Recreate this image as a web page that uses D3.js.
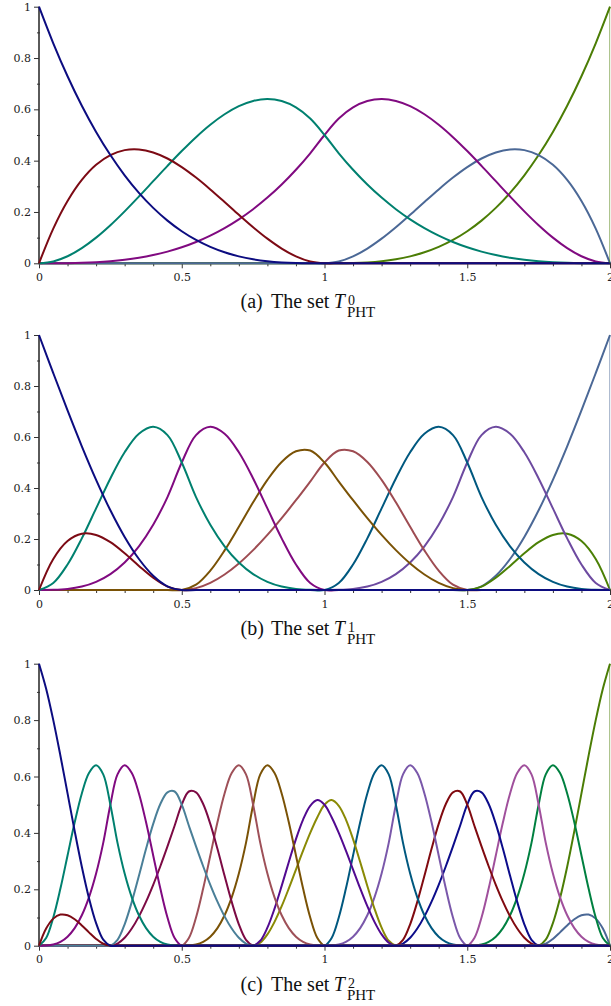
<!DOCTYPE html>
<html><head><meta charset="utf-8">
<script src="https://cdn.jsdelivr.net/npm/d3@7"></script>
<style>
html,body{margin:0;padding:0;background:#fff;}
svg{display:block;}
.tick text{font-family:'DejaVu Serif',serif;font-size:11px;}
.cap text{font-family:'Liberation Serif','Times New Roman',serif;}
</style></head><body>
<svg id="chart" width="611" height="1006"></svg>
<script>
// ---------- sample grids (parameter t) ----------
const xCoarse = [0,.05,.1,.15,.2,.25,.3,.35,.4,.45,.5,.55,.6,.65,.7,.75,.8,.85,.9,.95,1,1.05,1.1,1.15,1.2,1.25,1.3,1.35,1.4,1.45,1.5,1.55,1.6,1.65,1.7,1.75,1.8,1.85,1.9,1.95,2];
const xFine = [0,.025,.05,.075,.1,.125,.15,.175,.2,.225,.25,.275,.3,.325,.35,.375,.4,.425,.45,.475,.5,.525,.55,.575,.6,.625,.65,.675,.7,.725,.75,.775,.8,.825,.85,.875,.9,.925,.95,.975,1,1.025,1.05,1.075,1.1,1.125,1.15,1.175,1.2,1.225,1.25,1.275,1.3,1.325,1.35,1.375,1.4,1.425,1.45,1.475,1.5,1.525,1.55,1.575,1.6,1.625,1.65,1.675,1.7,1.725,1.75,1.775,1.8,1.825,1.85,1.875,1.9,1.925,1.95,1.975,2];

// ---------- (a) T^0 : values on xCoarse ----------
const a_navy = [1,.8574,.729,.6141,.512,.4219,.343,.2746,.216,.1664,.125,.0911,.064,.0429,.027,.0156,.008,.0034,.001,.0001,0,
 0,0,0,0,0,0,0,0,0,0, 0,0,0,0,0,0,0,0,0,0];
const a_red = [0,.1354,.243,.3251,.384,.4219,.441,.4436,.432,.4084,.375,.3341,.288,.2389,.189,.1406,.096,.0574,.027,.0071,0,
 0,0,0,0,0,0,0,0,0,0, 0,0,0,0,0,0,0,0,0,0];
const a_teal = [0,.0072,.0275,.0591,.1,.1484,.2025,.2603,.32,.3797,.4375,.4916,.54,.5809,.6125,.6328,.64,.6322,.6075,.5641,.5,
 .4287,.3645,.3071,.256,.2109,.1715,.1373,.108,.0832,.0625,.0456,.032,.0214,.0135,.0078,.004,.0017,.0005,.0001,0];
const a_purple = [0,.0001,.0005,.0017,.004,.0078,.0135,.0214,.032,.0456,.0625,.0832,.108,.1373,.1715,.2109,.256,.3071,.3645,.4287,.5,
 .5641,.6075,.6322,.64,.6328,.6125,.5809,.54,.4916,.4375,.3797,.32,.2603,.2025,.1484,.1,.0591,.0275,.0072,0];
const a_slate = [0,0,0,0,0,0,0,0,0,0, 0,0,0,0,0,0,0,0,0,0,
 0,.0071,.027,.0574,.096,.1406,.189,.2389,.288,.3341,.375,.4084,.432,.4436,.441,.4219,.384,.3251,.243,.1354,0];
const a_green = [0,0,0,0,0,0,0,0,0,0, 0,0,0,0,0,0,0,0,0,0,
 0,.0001,.001,.0034,.008,.0156,.027,.0429,.064,.0911,.125,.1664,.216,.2746,.343,.4219,.512,.6141,.729,.8574,1];

// ---------- (b) T^1 : values on xCoarse ----------
const b_navy = [1,.8505,.704,.5635,.432,.3125,.208,.1215,.056,.0145,0,
 0,0,0,0,0,0,0,0,0,0, 0,0,0,0,0,0,0,0,0,0, 0,0,0,0,0,0,0,0,0,0];
const b_red = [0,.1215,.192,.2205,.216,.1875,.144,.0945,.048,.0135,0,
 0,0,0,0,0,0,0,0,0,0, 0,0,0,0,0,0,0,0,0,0, 0,0,0,0,0,0,0,0,0,0];
const b_teal = [0,.0275,.1,.2025,.32,.4375,.54,.6125,.64,.6075,.5, .3645,.256,.1715,.108,.0625,.032,.0135,.004,.0005,0,
 0,0,0,0,0,0,0,0,0,0, 0,0,0,0,0,0,0,0,0,0];
const b_purple = [0,.0005,.004,.0135,.032,.0625,.108,.1715,.256,.3645,.5, .6075,.64,.6125,.54,.4375,.32,.2025,.1,.0275,0,
 0,0,0,0,0,0,0,0,0,0, 0,0,0,0,0,0,0,0,0,0];
const b_brown = [0,0,0,0,0,0,0,0,0,0,
 0,.0208,.076,.1553,.248,.3438,.432,.5023,.544,.5468,.5, .4253,.352,.2818,.216,.1563,.104,.0608,.028,.0073,0,
 0,0,0,0,0,0,0,0,0,0];
const b_rosy = [0,0,0,0,0,0,0,0,0,0,
 0,.0073,.028,.0608,.104,.1563,.216,.2818,.352,.4253,.5, .5468,.544,.5023,.432,.3438,.248,.1553,.076,.0208,0,
 0,0,0,0,0,0,0,0,0,0];
const b_petrol = [0,0,0,0,0,0,0,0,0,0, 0,0,0,0,0,0,0,0,0,0,
 0,.0275,.1,.2025,.32,.4375,.54,.6125,.64,.6075,.5, .3645,.256,.1715,.108,.0625,.032,.0135,.004,.0005,0];
const b_violet = [0,0,0,0,0,0,0,0,0,0, 0,0,0,0,0,0,0,0,0,0,
 0,.0005,.004,.0135,.032,.0625,.108,.1715,.256,.3645,.5, .6075,.64,.6125,.54,.4375,.32,.2025,.1,.0275,0];
const b_green = [0,0,0,0,0,0,0,0,0,0, 0,0,0,0,0,0,0,0,0,0, 0,0,0,0,0,0,0,0,0,0,
 0,.0135,.048,.0945,.144,.1875,.216,.2205,.192,.1215,0];
const b_slate = [0,0,0,0,0,0,0,0,0,0, 0,0,0,0,0,0,0,0,0,0, 0,0,0,0,0,0,0,0,0,0,
 0,.0145,.056,.1215,.208,.3125,.432,.5635,.704,.8505,1];

// ---------- (c) T^2 : values on xFine ----------
const c_navy = [1,.9113,.8,.6738,.54,.4063,.28,.1688,.08,.0213,0,
 0,0,0,0,0,0,0,0,0,0, 0,0,0,0,0,0,0,0,0,0, 0,0,0,0,0,0,0,0,0,0, 0,0,0,0,0,0,0,0,0,0,
 0,0,0,0,0,0,0,0,0,0, 0,0,0,0,0,0,0,0,0,0, 0,0,0,0,0,0,0,0,0,0];
const c_red = [0,.0608,.096,.1103,.108,.0938,.072,.0473,.024,.0068,0,
 0,0,0,0,0,0,0,0,0,0, 0,0,0,0,0,0,0,0,0,0, 0,0,0,0,0,0,0,0,0,0, 0,0,0,0,0,0,0,0,0,0,
 0,0,0,0,0,0,0,0,0,0, 0,0,0,0,0,0,0,0,0,0, 0,0,0,0,0,0,0,0,0,0];
const c_teal = [0,.0275,.1,.2025,.32,.4375,.54,.6125,.64,.6075,.5, .3645,.256,.1715,.108,.0625,.032,.0135,.004,.0005,0,
 0,0,0,0,0,0,0,0,0,0, 0,0,0,0,0,0,0,0,0,0, 0,0,0,0,0,0,0,0,0,0,
 0,0,0,0,0,0,0,0,0,0, 0,0,0,0,0,0,0,0,0,0, 0,0,0,0,0,0,0,0,0,0];
const c_purple = [0,.0005,.004,.0135,.032,.0625,.108,.1715,.256,.3645,.5, .6075,.64,.6125,.54,.4375,.32,.2025,.1,.0275,0,
 0,0,0,0,0,0,0,0,0,0, 0,0,0,0,0,0,0,0,0,0, 0,0,0,0,0,0,0,0,0,0,
 0,0,0,0,0,0,0,0,0,0, 0,0,0,0,0,0,0,0,0,0, 0,0,0,0,0,0,0,0,0,0];
const c_steel = [0,0,0,0,0,0,0,0,0,0,
 0,.0208,.076,.1553,.248,.3438,.432,.5023,.544,.5468,.5, .4253,.352,.2818,.216,.1563,.104,.0608,.028,.0073,0,
 0,0,0,0,0,0,0,0,0,0, 0,0,0,0,0,0,0,0,0,0, 0,0,0,0,0,0,0,0,0,0, 0,0,0,0,0,0,0,0,0,0, 0,0,0,0,0,0,0,0,0,0];
const c_wine = [0,0,0,0,0,0,0,0,0,0,
 0,.0073,.028,.0608,.104,.1563,.216,.2818,.352,.4253,.5, .5468,.544,.5023,.432,.3438,.248,.1553,.076,.0208,0,
 0,0,0,0,0,0,0,0,0,0, 0,0,0,0,0,0,0,0,0,0, 0,0,0,0,0,0,0,0,0,0, 0,0,0,0,0,0,0,0,0,0, 0,0,0,0,0,0,0,0,0,0];
const c_rosy = [0,0,0,0,0,0,0,0,0,0, 0,0,0,0,0,0,0,0,0,0,
 0,.0275,.1,.2025,.32,.4375,.54,.6125,.64,.6075,.5, .3645,.256,.1715,.108,.0625,.032,.0135,.004,.0005,0,
 0,0,0,0,0,0,0,0,0,0, 0,0,0,0,0,0,0,0,0,0, 0,0,0,0,0,0,0,0,0,0, 0,0,0,0,0,0,0,0,0,0];
const c_brown = [0,0,0,0,0,0,0,0,0,0, 0,0,0,0,0,0,0,0,0,0,
 0,.0005,.004,.0135,.032,.0625,.108,.1715,.256,.3645,.5, .6075,.64,.6125,.54,.4375,.32,.2025,.1,.0275,0,
 0,0,0,0,0,0,0,0,0,0, 0,0,0,0,0,0,0,0,0,0, 0,0,0,0,0,0,0,0,0,0, 0,0,0,0,0,0,0,0,0,0];
const c_indigo = [0,0,0,0,0,0,0,0,0,0, 0,0,0,0,0,0,0,0,0,0, 0,0,0,0,0,0,0,0,0,0,
 0,.0174,.064,.1316,.212,.2969,.378,.4471,.496,.5164,.5, .4556,.4,.3369,.27,.2031,.14,.0844,.04,.0106,0,
 0,0,0,0,0,0,0,0,0,0, 0,0,0,0,0,0,0,0,0,0, 0,0,0,0,0,0,0,0,0,0];
const c_olive = [0,0,0,0,0,0,0,0,0,0, 0,0,0,0,0,0,0,0,0,0, 0,0,0,0,0,0,0,0,0,0,
 0,.0106,.04,.0844,.14,.2031,.27,.3369,.4,.4556,.5, .5164,.496,.4471,.378,.2969,.212,.1316,.064,.0174,0,
 0,0,0,0,0,0,0,0,0,0, 0,0,0,0,0,0,0,0,0,0, 0,0,0,0,0,0,0,0,0,0];
const c_petrol = [0,0,0,0,0,0,0,0,0,0, 0,0,0,0,0,0,0,0,0,0, 0,0,0,0,0,0,0,0,0,0, 0,0,0,0,0,0,0,0,0,0,
 0,.0275,.1,.2025,.32,.4375,.54,.6125,.64,.6075,.5, .3645,.256,.1715,.108,.0625,.032,.0135,.004,.0005,0,
 0,0,0,0,0,0,0,0,0,0, 0,0,0,0,0,0,0,0,0,0];
const c_lavender = [0,0,0,0,0,0,0,0,0,0, 0,0,0,0,0,0,0,0,0,0, 0,0,0,0,0,0,0,0,0,0, 0,0,0,0,0,0,0,0,0,0,
 0,.0005,.004,.0135,.032,.0625,.108,.1715,.256,.3645,.5, .6075,.64,.6125,.54,.4375,.32,.2025,.1,.0275,0,
 0,0,0,0,0,0,0,0,0,0, 0,0,0,0,0,0,0,0,0,0];
const c_darkred = [0,0,0,0,0,0,0,0,0,0, 0,0,0,0,0,0,0,0,0,0, 0,0,0,0,0,0,0,0,0,0, 0,0,0,0,0,0,0,0,0,0, 0,0,0,0,0,0,0,0,0,0,
 0,.0208,.076,.1553,.248,.3438,.432,.5023,.544,.5468,.5, .4253,.352,.2818,.216,.1563,.104,.0608,.028,.0073,0,
 0,0,0,0,0,0,0,0,0,0];
const c_navy2 = [0,0,0,0,0,0,0,0,0,0, 0,0,0,0,0,0,0,0,0,0, 0,0,0,0,0,0,0,0,0,0, 0,0,0,0,0,0,0,0,0,0, 0,0,0,0,0,0,0,0,0,0,
 0,.0073,.028,.0608,.104,.1563,.216,.2818,.352,.4253,.5, .5468,.544,.5023,.432,.3438,.248,.1553,.076,.0208,0,
 0,0,0,0,0,0,0,0,0,0];
const c_orchid = [0,0,0,0,0,0,0,0,0,0, 0,0,0,0,0,0,0,0,0,0, 0,0,0,0,0,0,0,0,0,0, 0,0,0,0,0,0,0,0,0,0, 0,0,0,0,0,0,0,0,0,0, 0,0,0,0,0,0,0,0,0,0,
 0,.0275,.1,.2025,.32,.4375,.54,.6125,.64,.6075,.5, .3645,.256,.1715,.108,.0625,.032,.0135,.004,.0005,0];
const c_green = [0,0,0,0,0,0,0,0,0,0, 0,0,0,0,0,0,0,0,0,0, 0,0,0,0,0,0,0,0,0,0, 0,0,0,0,0,0,0,0,0,0, 0,0,0,0,0,0,0,0,0,0, 0,0,0,0,0,0,0,0,0,0,
 0,.0005,.004,.0135,.032,.0625,.108,.1715,.256,.3645,.5, .6075,.64,.6125,.54,.4375,.32,.2025,.1,.0275,0];
const c_slate = [0,0,0,0,0,0,0,0,0,0, 0,0,0,0,0,0,0,0,0,0, 0,0,0,0,0,0,0,0,0,0, 0,0,0,0,0,0,0,0,0,0, 0,0,0,0,0,0,0,0,0,0, 0,0,0,0,0,0,0,0,0,0, 0,0,0,0,0,0,0,0,0,0,
 0,.0068,.024,.0473,.072,.0938,.108,.1103,.096,.0608,0];
const c_olivegreen = [0,0,0,0,0,0,0,0,0,0, 0,0,0,0,0,0,0,0,0,0, 0,0,0,0,0,0,0,0,0,0, 0,0,0,0,0,0,0,0,0,0, 0,0,0,0,0,0,0,0,0,0, 0,0,0,0,0,0,0,0,0,0, 0,0,0,0,0,0,0,0,0,0,
 0,.0213,.08,.1688,.28,.4063,.54,.6738,.8,.9113,1];

// ---------- colours ----------
const colorsA = ["#0c0c80","#7c0a14","#00806f","#800a80","#4b6896","#4b7d05"];
const colorsB = ["#0c0c80","#7c0a14","#00806f","#800a80","#7a5206","#9e4c52","#00587f","#6d4aa0","#4b8005","#4b6896"];
const colorsC = ["#0c0c80","#7c0a14","#00806f","#800a80","#4a7f98","#7c0a44","#9e5058","#7a5206","#520a90","#8a8a05",
                 "#00587f","#7a58aa","#800a10","#0c0c8a","#a0509c","#008040","#4b6896","#4b7d05"];

// ---------- ticks & captions ----------
const yMajor = [0,0.2,0.4,0.6,0.8,1];
const yMajorLabels = ["0","0.2","0.4","0.6","0.8","1"];
const yMinor = [0.1,0.3,0.5,0.7,0.9];
const xMajor = [0,0.5,1,1.5,2];
const xMajorLabels = ["0","0.5","1","1.5","2"];
const xMinor = [0.1,0.2,0.3,0.4,0.6,0.7,0.8,0.9,1.1,1.2,1.3,1.4,1.6,1.7,1.8,1.9];
const captionTags = ["(a)","(b)","(c)"];
const captionLevels = ["0","1","2"];

// ---------- layout ----------
const panels = [
  {xs: xCoarse, series: [a_navy,a_red,a_teal,a_purple,a_slate,a_green], colors: colorsA, bottom: 263.3, top: 6.7},
  {xs: xCoarse, series: [b_navy,b_red,b_teal,b_purple,b_brown,b_rosy,b_petrol,b_violet,b_green,b_slate], colors: colorsB, bottom: 590, top: 335},
  {xs: xFine, series: [c_navy,c_red,c_teal,c_purple,c_steel,c_wine,c_rosy,c_brown,c_indigo,c_olive,
                       c_petrol,c_lavender,c_darkred,c_navy2,c_orchid,c_green,c_slate,c_olivegreen], colors: colorsC, bottom: 945.7, top: 663.7}
];

const svg = d3.select("#chart");
const x = d3.scaleLinear().domain([0,2]).range([39,610]);

panels.forEach((p, pi) => {
  const y = d3.scaleLinear().domain([0,1]).range([p.bottom, p.top]);
  const g = svg.append("g");

  // x axis baseline
  g.append("line").attr("x1", x(0)).attr("x2", 611).attr("y1", y(0)).attr("y2", y(0))
    .attr("stroke", "#2a2a3a").attr("stroke-width", 2);

  // x ticks
  g.append("g").attr("transform", `translate(0,${y(0)})`).attr("color", "#333")
    .call(d3.axisBottom(x).tickValues(xMinor).tickSize(3).tickFormat(""))
    .call(s => s.select(".domain").remove());
  const xa = g.append("g").attr("transform", `translate(0,${y(0)})`).attr("color", "#333")
    .call(d3.axisBottom(x).tickValues(xMajor).tickSize(5).tickPadding(5).tickFormat((d,i) => xMajorLabels[i]))
    .call(s => s.select(".domain").remove());
  xa.attr("font-family", null).attr("font-size", null);
  xa.selectAll("text").attr("fill", "#222");

  // y axis line
  g.append("line").attr("x1", x(0)).attr("x2", x(0)).attr("y1", y(0) + 1).attr("y2", y(1))
    .attr("stroke", "#5a5a5a").attr("stroke-width", 2);
  g.append("g").attr("transform", `translate(${x(0) + 1},0)`).attr("color", "#333")
    .call(d3.axisLeft(y).tickValues(yMinor).tickSize(3).tickFormat(""))
    .call(s => s.select(".domain").remove());
  const ya = g.append("g").attr("transform", `translate(${x(0)},0)`).attr("color", "#333")
    .call(d3.axisLeft(y).tickValues(yMajor).tickSize(5).tickPadding(3).tickFormat((d,i) => yMajorLabels[i]))
    .call(s => s.select(".domain").remove());
  ya.attr("font-family", null).attr("font-size", null);
  ya.selectAll("text").attr("fill", "#222");

  // curves
  const line = d3.line().x((d, i) => x(p.xs[i])).y(d => y(d)).curve(d3.curveCatmullRom.alpha(0.5));
  const order = p.series.map((s, i) => i).reverse();
  order.forEach(i => {
    g.append("path").attr("d", line(p.series[i])).attr("fill", "none")
      .attr("stroke", p.colors[i]).attr("stroke-width", 2).attr("stroke-linejoin", "round");
  });

  // light edge line at right end
  const lastColor = p.colors[p.colors.length - 1];
  g.append("line").attr("x1", x(2) - 0.4).attr("x2", x(2) - 0.4).attr("y1", y(0)).attr("y2", y(1))
    .attr("stroke", lastColor).attr("stroke-opacity", 0.45).attr("stroke-width", 1.2);

  // caption
  const cy = y(0) + 45;
  const cap = g.append("g").attr("class", "cap").attr("fill", "#111");
  cap.append("text").attr("x", 240.5).attr("y", cy).style("font-size", "20px").text(captionTags[pi]);
  const ts = cap.append("text").attr("x", 271).attr("y", cy).style("font-size", "20px").text("The set");
  const w = ts.node().getComputedTextLength();
  const tx = 271 + w + 4.5;
  const tT = cap.append("text").attr("x", tx).attr("y", cy).style("font-size", "20px");
  const tMain = tT.append("tspan").style("font-style", "italic").text("T");
  const wT = tMain.node().getComputedTextLength();
  tT.append("tspan").attr("x", tx + wT + 3).attr("y", cy - 3).style("font-size", "14px").text(captionLevels[pi]);
  tT.append("tspan").attr("x", tx + wT + 2).attr("y", cy + 9).style("font-size", "15px").text("PHT");
});
</script>
</body></html>
